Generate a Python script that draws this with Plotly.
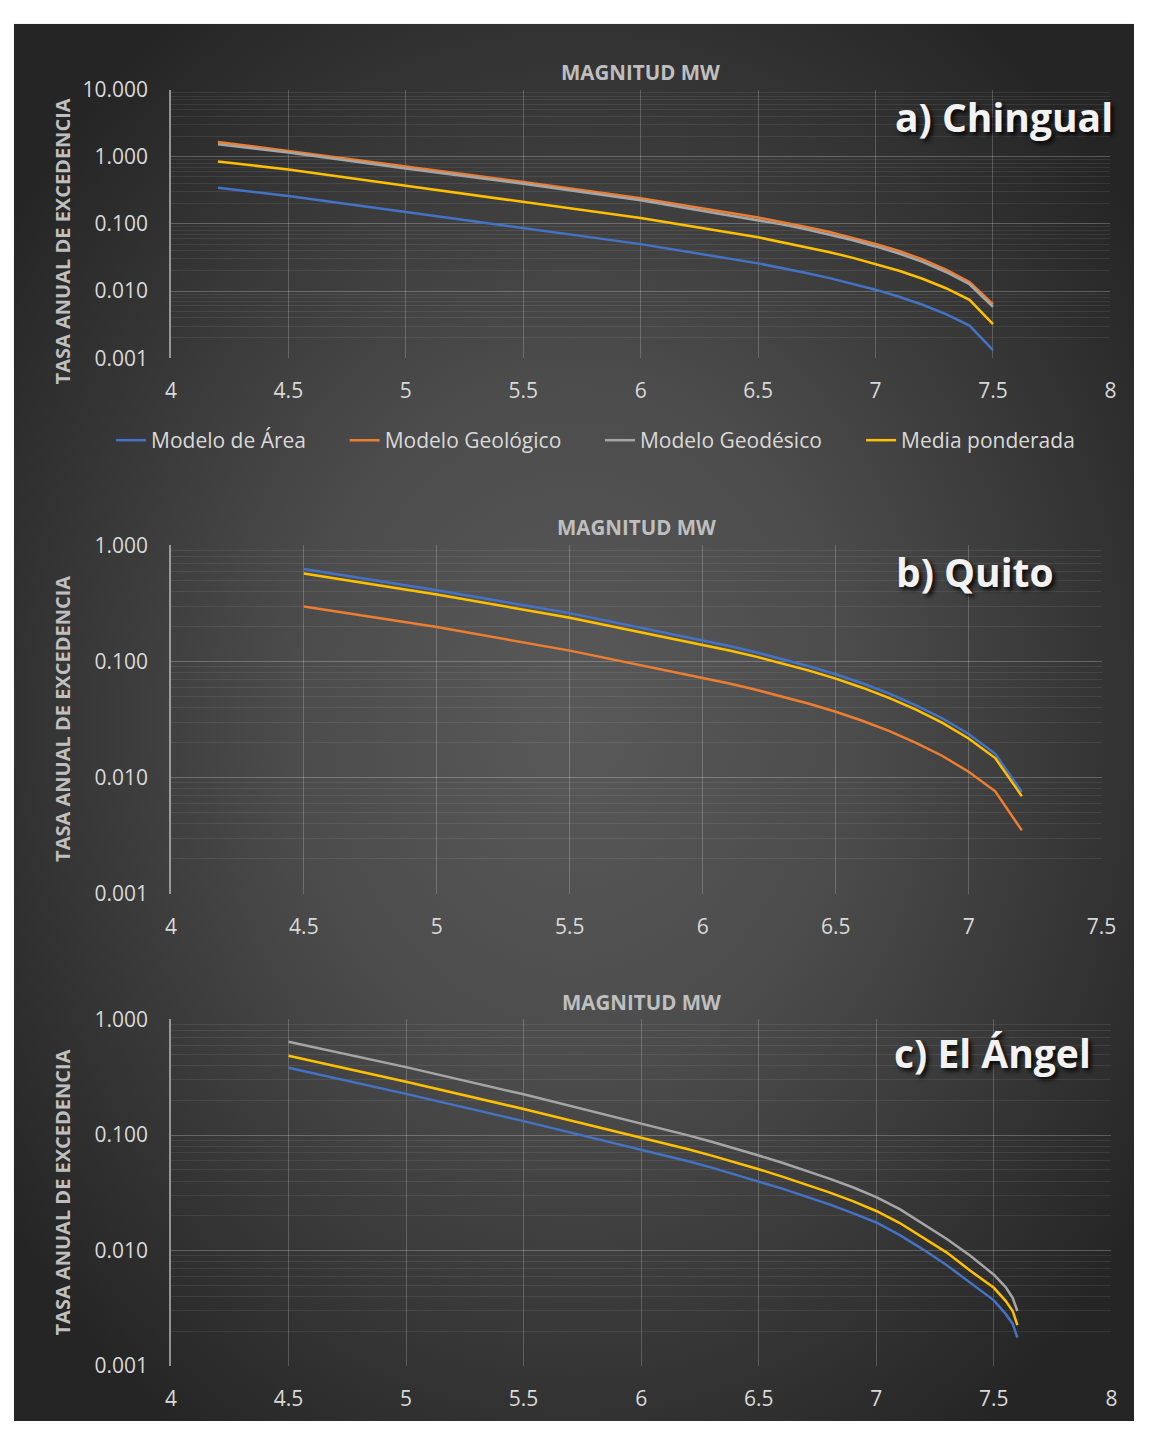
import base64
import plotly.graph_objects as go

# ---------------- data ----------------
series_names = ["Modelo de Área", "Modelo Geológico", "Modelo Geodésico", "Media ponderada"]
series_colors = ["#4472C4", "#ED7D31", "#A5A5A5", "#FFC000"]

# a) Chingual
mw_chingual = [4.2, 4.5, 5.0, 5.5, 6.0, 6.5, 6.6, 6.7, 6.8, 6.9, 7.0, 7.1, 7.2, 7.3, 7.4, 7.5]
chingual_area = [0.344, 0.26, 0.15, 0.0873, 0.0499, 0.0258, 0.0221, 0.01875, 0.0157, 0.01294,
                 0.01047, 0.00822, 0.00624, 0.00452, 0.00305, 0.00132]
chingual_geol = [1.66, 1.22, 0.715, 0.42, 0.24, 0.124, 0.1067, 0.0908, 0.0762, 0.0624,
                 0.0501, 0.0394, 0.0295, 0.0209, 0.01365, 0.00635]
chingual_geod = [1.53, 1.15, 0.667, 0.394, 0.224, 0.113, 0.0982, 0.0835, 0.0701, 0.0574,
                 0.0461, 0.0362, 0.0271, 0.0192, 0.0126, 0.0058]
chingual_media = [0.845, 0.645, 0.368, 0.21, 0.122, 0.063, 0.0536, 0.0455, 0.0381, 0.0314,
                  0.0248, 0.0200, 0.0152, 0.0110, 0.0074, 0.0032]

# b) Quito
mw_quito = [4.5, 5.0, 5.5, 6.0, 6.1, 6.2, 6.3, 6.4, 6.5, 6.6, 6.7, 6.8, 6.9, 7.0, 7.1, 7.2]
quito_area = [0.627, 0.411, 0.261, 0.152, 0.136, 0.120, 0.105, 0.091, 0.0776, 0.0649,
              0.0530, 0.0421, 0.0324, 0.0237, 0.0160, 0.0075]
quito_geol = [0.297, 0.198, 0.124, 0.0723, 0.0646, 0.057, 0.0499, 0.0432, 0.0369, 0.0308,
              0.0252, 0.020, 0.0154, 0.0112, 0.0076, 0.0035]
quito_media = [0.573, 0.378, 0.238, 0.139, 0.1245, 0.110, 0.096, 0.0834, 0.0711, 0.0594,
               0.0486, 0.0386, 0.0297, 0.0217, 0.0147, 0.0069]

# c) El Ángel
mw_angel = [4.5, 5.0, 5.5, 6.0, 6.1, 6.2, 6.3, 6.4, 6.5, 6.6, 6.7, 6.8, 6.9, 7.0, 7.1,
            7.2, 7.3, 7.4, 7.5, 7.55, 7.58, 7.6]
angel_area = [0.382, 0.227, 0.132, 0.075, 0.0670, 0.0593, 0.0522, 0.0457, 0.0395, 0.0344,
              0.0295, 0.0251, 0.0211, 0.0175, 0.0136, 0.0102, 0.00746, 0.00525, 0.00371,
              0.00283, 0.00233, 0.00176]
angel_geod = [0.643, 0.387, 0.225, 0.126, 0.1122, 0.0993, 0.0874, 0.0765, 0.0665, 0.0576,
              0.0494, 0.0420, 0.0353, 0.029, 0.0228, 0.0171, 0.0126, 0.0090, 0.00618,
              0.00483, 0.0039, 0.0030]
angel_media = [0.486, 0.289, 0.168, 0.095, 0.0851, 0.0753, 0.0663, 0.0580, 0.0505, 0.0437,
               0.0375, 0.0319, 0.0268, 0.022, 0.0173, 0.0129, 0.0096, 0.00668, 0.00476,
               0.00367, 0.0030, 0.00226]

y_tick_vals = [0.001, 0.01, 0.1, 1, 10]
y_tick_text = ["0.001", "0.010", "0.100", "1.000", "10.000"]

panel_titles = ["a) Chingual", "b) Quito", "c) El Ángel"]
x_title = "MAGNITUD MW"
y_title = "TASA ANUAL DE EXCEDENCIA"

# ---------------- styling ----------------
W, H = 1149, 1434
FONT = "Open Sans"
TICK_COLOR = "#d9d9d9"
TITLE_COLOR = "#bfbfbf"
GRID_MAJOR = "rgba(255,255,255,0.24)"
GRID_V = "rgba(255,255,255,0.20)"
GRID_MINOR = "rgba(255,255,255,0.08)"
AXIS_LINE = "rgba(230,230,230,0.55)"
LINE_W = 2.5


def px(x):
    return x / W


def py(y):
    return 1 - y / H


# panel plot areas in pixels: (left, right, top, bottom)
boxes = [(168, 1125, 76, 350), (168, 1116, 541, 896), (168, 1126, 1024.5, 1378)]
x_ranges = [[4, 8], [4, 7.5], [4, 8]]
y_ranges = [[-3, 1], [-3, 0], [-3, 0]]

minor_vals = [m * 10.0 ** e for e in range(-3, 1) for m in range(2, 10)]

fig = go.Figure()

panels = [
    (mw_chingual, [(0, chingual_area), (1, chingual_geol), (2, chingual_geod), (3, chingual_media)]),
    (mw_quito, [(0, quito_area), (1, quito_geol), (3, quito_media)]),
    (mw_angel, [(0, angel_area), (2, angel_geod), (3, angel_media)]),
]

legend_ids = ["legend", "legend2", "legend3", "legend4"]

for p, (mw, lines) in enumerate(panels):
    sfx = "" if p == 0 else str(p + 1)
    for idx, vals in lines:
        fig.add_trace(go.Scatter(
            x=mw, y=vals, mode="lines", name=series_names[idx],
            line=dict(color=series_colors[idx], width=LINE_W),
            xaxis="x" + sfx, yaxis="y" + sfx,
            showlegend=(p == 0), legend=legend_ids[idx],
        ))

layout = dict(
    width=W, height=H,
    margin=dict(l=0, r=0, t=0, b=0),
    paper_bgcolor="white",
    plot_bgcolor="rgba(0,0,0,0)",
    font=dict(family=FONT, color=TICK_COLOR),
    showlegend=True,
)

for p, (l, r, t, b) in enumerate(boxes):
    sfx = "" if p == 0 else str(p + 1)
    layout["xaxis" + sfx] = dict(
        domain=[px(l), px(r)], range=x_ranges[p], anchor="y" + sfx,
        tick0=4, dtick=0.5, ticks="", showline=False, zeroline=False,
        showgrid=True, gridcolor=GRID_V, gridwidth=1,
        tickfont=dict(family=FONT, size=21, color=TICK_COLOR),
        ticklabelstandoff=18, fixedrange=True,
    )
    layout["yaxis" + sfx] = dict(
        domain=[py(b), py(t)], type="log", range=y_ranges[p], anchor="x" + sfx,
        tickmode="array", tickvals=y_tick_vals, ticktext=y_tick_text,
        ticks="", showline=True, linecolor=AXIS_LINE, linewidth=1.5,
        showgrid=True, gridcolor=GRID_MAJOR, gridwidth=1.2, zeroline=False,
        minor=dict(tickmode="array", tickvals=minor_vals, showgrid=True,
                   gridcolor=GRID_MINOR, gridwidth=1, ticks=""),
        tickfont=dict(family=FONT, size=21, color=TICK_COLOR),
        ticklabelstandoff=17, fixedrange=True,
    )

# legends: one entry each, laid out in a row under the first panel
legend_text_x = [149, 387, 647, 913]
for i, lid in enumerate(legend_ids):
    layout[lid] = dict(
        x=px(legend_text_x[i] - 42), y=py(434), xanchor="left", yanchor="middle",
        orientation="h", bgcolor="rgba(0,0,0,0)", borderwidth=0,
        font=dict(family=FONT, size=21, color=TICK_COLOR),
    )

fig.update_layout(**layout)

# radial background
svg = (
    "<svg xmlns='http://www.w3.org/2000/svg' width='1141' height='1425' "
    "viewBox='0 0 1141 1425' preserveAspectRatio='none'>"
    "<defs><radialGradient id='g' cx='50%' cy='50%' r='62%'>"
    "<stop offset='0' stop-color='#595959'/>"
    "<stop offset='0.4' stop-color='#4c4c4c'/>"
    "<stop offset='1' stop-color='#252525'/>"
    "</radialGradient></defs>"
    "<rect width='1141' height='1425' fill='url(#g)'/></svg>"
)
bg_uri = "data:image/svg+xml;base64," + base64.b64encode(svg.encode()).decode()
fig.add_layout_image(dict(
    source=bg_uri, xref="paper", yref="paper",
    x=px(8), y=py(9), sizex=1 - px(8), sizey=py(9),
    xanchor="left", yanchor="top", sizing="stretch", layer="below",
))

# axis titles and panel labels
title_y = [58, 522, 1007]
ytitle_center = [231, 718, 1201]
label_pos = [(904, 104), (905, 568), (903, 1058)]
for p, (l, r, t, b) in enumerate(boxes):
    fig.add_annotation(
        x=px((l + r) / 2), y=py(title_y[p]), xref="paper", yref="paper",
        text="<b>" + x_title + "</b>", showarrow=False,
        xanchor="center", yanchor="middle",
        font=dict(family=FONT, size=20.5, color=TITLE_COLOR),
    )
    fig.add_annotation(
        x=px(58), y=py(ytitle_center[p]), xref="paper", yref="paper",
        text="<b>" + y_title + "</b>", showarrow=False, textangle=-90,
        xanchor="center", yanchor="middle",
        font=dict(family=FONT, size=20, color=TITLE_COLOR),
    )
    lx, ly = label_pos[p]
    fig.add_annotation(
        x=px(lx), y=py(ly), xref="paper", yref="paper",
        text="<b>" + panel_titles[p] + "</b>", showarrow=False,
        xanchor="left", yanchor="middle",
        font=dict(family=FONT, size=39, color="#f2f2f2",
                  shadow="3px 3px 4px rgba(0,0,0,0.85)"),
    )

fig.write_html("out.html")
